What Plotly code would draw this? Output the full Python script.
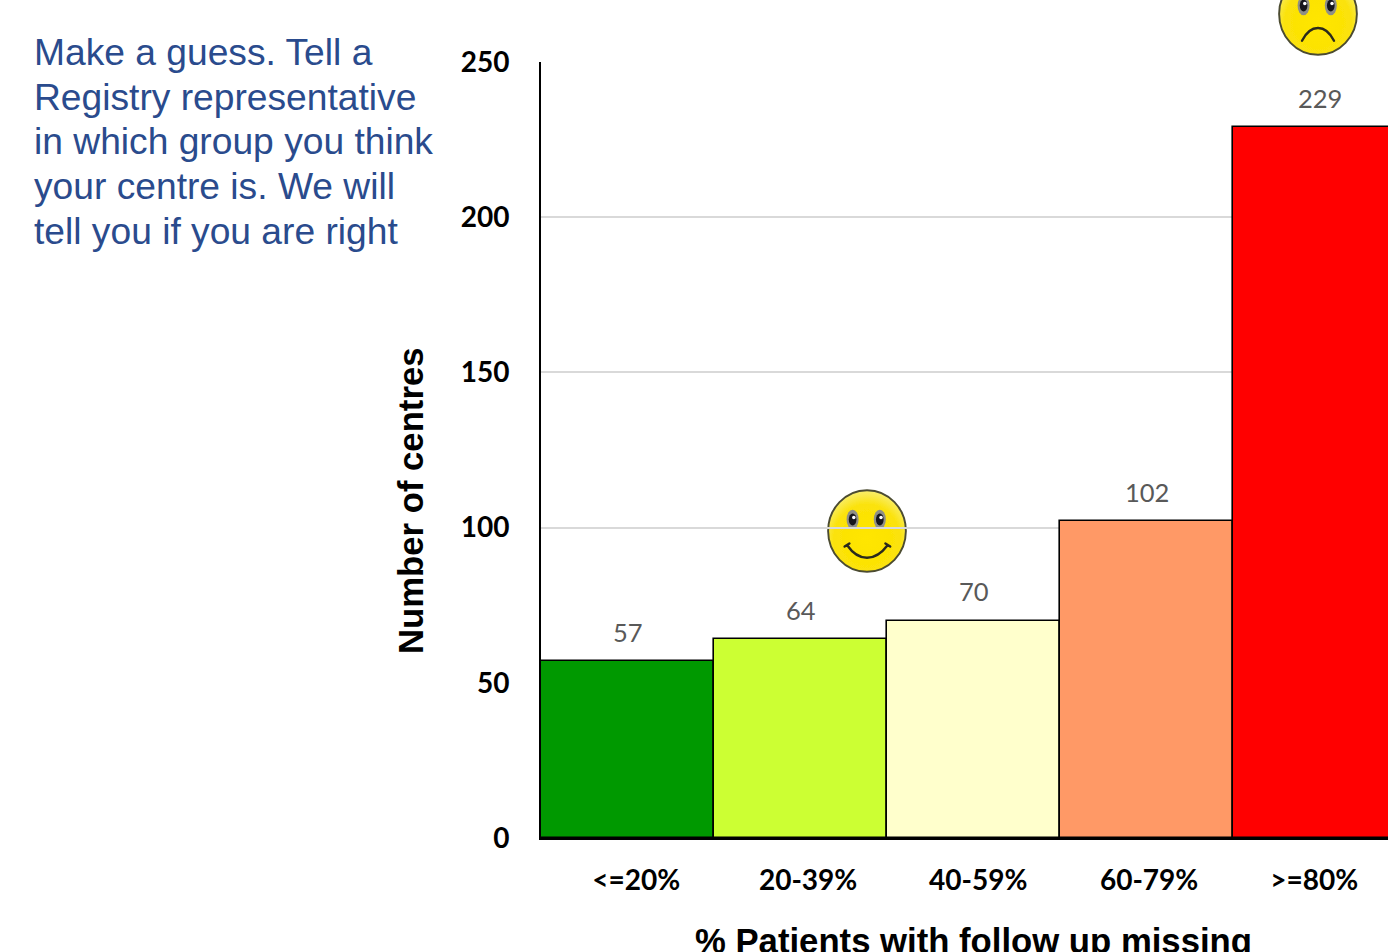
import base64
import plotly.graph_objects as go

categories = ["<=20%", "20-39%", "40-59%", "60-79%", ">=80%"]
centres = [57, 64, 70, 102, 229]
bar_colours = ["#009900", "#CCFF33", "#FFFFCC", "#FF9966", "#FF0000"]
y_ticks = [0, 50, 100, 150, 200, 250]
note_lines = [
    "Make a guess. Tell a",
    "Registry representative",
    "in which group you think",
    "your centre is. We will",
    "tell you if you are right",
]

# Tick labels sit slightly off the bar centres
label_offsets = [0.05, 0.044, 0.027, 0.015, -0.031]

WIDTH, HEIGHT = 1388, 952
LEFT, TOP, BOTTOM = 541, 62, 838
plot_w, plot_h = WIDTH - LEFT, BOTTOM - TOP


def px(x):
    return (x - LEFT) / plot_w


def py(y):
    return (BOTTOM - y) / plot_h


def face(mouth, eye_y):
    """Small yellow face as an inline SVG image."""
    eyes = "".join(
        f'<ellipse cx="{cx}" cy="{eye_y}" rx="7.5" ry="12" fill="#8f8f86"/>'
        f'<ellipse cx="{cx}" cy="{eye_y}" rx="4.8" ry="7.5" fill="#15151f"/>'
        f'<circle cx="{cx + 1.5}" cy="{eye_y - 2.5}" r="2.2" fill="#fff"/>'
        for cx in (32, 66)
    )
    svg = (
        '<svg xmlns="http://www.w3.org/2000/svg" width="400" height="420" viewBox="0 0 100 105">'
        '<defs><radialGradient id="g" cx="50%" cy="60%" r="60%">'
        '<stop offset="0" stop-color="#ffe600"/><stop offset="0.7" stop-color="#fbe208"/>'
        '<stop offset="1" stop-color="#f8ee70"/></radialGradient>'
        '<filter id="soft"><feGaussianBlur stdDeviation="0.45"/></filter></defs>'
        '<g filter="url(#soft)">'
        '<ellipse cx="50" cy="52.5" rx="48.6" ry="51" fill="url(#g)" stroke="#4b4b30" stroke-width="2.4"/>'
        f'{eyes}<path d="{mouth}" fill="none" stroke="#2a2a1c" stroke-width="3" stroke-linecap="round"/>'
        "</g></svg>"
    )
    return "data:image/svg+xml;base64," + base64.b64encode(svg.encode()).decode()


fig = go.Figure(
    go.Bar(
        x=list(range(len(categories))),
        y=centres,
        width=1,
        marker=dict(color=bar_colours, line=dict(color="#000000", width=1.6)),
        hoverinfo="skip",
    )
)

annotations = [
    dict(
        text=str(v), x=i, y=v, xref="x", yref="y", xshift=0.5, yshift=29.5,
        showarrow=False, xanchor="center", yanchor="middle",
        font=dict(family="Lato", size=25.5, color="#595959"),
    )
    for i, v in enumerate(centres)
]
for n, line in enumerate(note_lines):
    annotations.append(dict(
        text=line, x=px(32), y=py(52 + n * 44.75), xref="paper", yref="paper",
        showarrow=False, xanchor="left", yanchor="middle",
        font=dict(family="Liberation Sans", size=37.2, color="#2A4B8D"),
    ))
annotations += [
    dict(
        text="Number of centres", x=px(411), y=py(501), xref="paper", yref="paper",
        textangle=-90, showarrow=False, xanchor="center", yanchor="middle",
        font=dict(family="Liberation Sans", size=34.7, color="#000000", weight="bold"),
    ),
    dict(
        text="% Patients with follow up missing", x=px(973), y=py(941), xref="paper", yref="paper",
        showarrow=False, xanchor="center", yanchor="middle",
        font=dict(family="Liberation Sans", size=34.7, color="#000000", weight="bold"),
    ),
]

images = [
    dict(
        source=face("M 25 70 Q 36 86 50 86 Q 64 86 76 70 M 22 72 L 28 68 M 73 68 L 79 72", 38),
        xref="paper", yref="paper", x=px(867), y=py(531), sizex=80 / plot_w, sizey=84 / plot_h,
        xanchor="center", yanchor="middle", sizing="stretch", layer="below",
    ),
    dict(
        source=face("M 30 86 Q 38 70 50 70 Q 62 70 70 86", 42),
        xref="paper", yref="paper", x=px(1318), y=py(14), sizex=80 / plot_w, sizey=84 / plot_h,
        xanchor="center", yanchor="middle", sizing="stretch", layer="above",
    ),
]

fig.update_layout(
    width=WIDTH,
    height=HEIGHT,
    margin=dict(l=LEFT, r=0, t=TOP, b=HEIGHT - BOTTOM, autoexpand=False),
    paper_bgcolor="#FFFFFF",
    plot_bgcolor="#FFFFFF",
    showlegend=False,
    bargap=0,
    annotations=annotations,
    images=images,
    xaxis=dict(
        range=[-0.5, -0.5 + plot_w / 173],
        tickmode="array",
        tickvals=[i + d for i, d in enumerate(label_offsets)],
        ticktext=categories,
        ticks="",
        ticklabelstandoff=17,
        showgrid=False,
        zeroline=False,
        showline=True,
        linecolor="#000000",
        linewidth=1.5,
        tickfont=dict(family="Lato", size=28, color="#000000", weight="bold"),
    ),
    yaxis=dict(
        range=[0, 250],
        tickmode="array",
        tickvals=y_ticks,
        ticks="",
        ticklabelstandoff=24,
        showgrid=True,
        gridcolor="#D9D9D9",
        gridwidth=1.5,
        zeroline=False,
        showline=True,
        linecolor="#000000",
        linewidth=2,
        tickfont=dict(family="Lato", size=28, color="#000000", weight="bold"),
    ),
)

fig.write_html("out.html")
